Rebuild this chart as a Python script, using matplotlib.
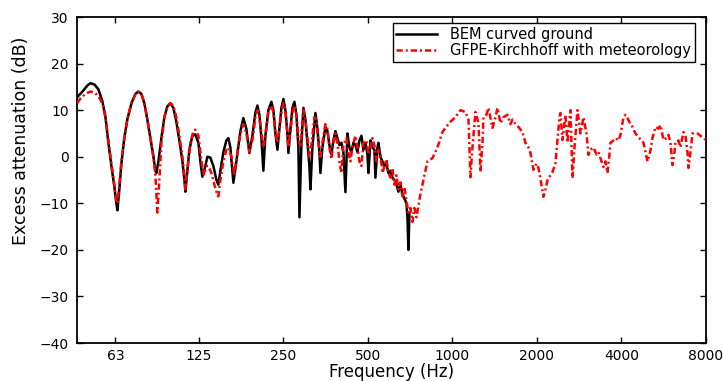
import matplotlib
matplotlib.use("Agg")
import matplotlib.pyplot as plt
from matplotlib.ticker import FixedLocator, FixedFormatter, NullLocator

# BEM curved ground (black, solid)
bem_freq = [46.1, 48.1, 50.1, 51.3, 53.1, 54.8, 56.6, 58.1, 59.5, 61.0,
            62.5, 63.5, 64.1, 65.1, 66.2, 67.8, 69.5, 71.9, 74.3, 76.1,
            78.0, 79.9, 81.9, 84.0, 86.1, 87.5, 88.2, 89.7, 91.9, 94.2,
            96.5, 98.9, 101.4, 103.9, 106.5, 109.2, 111.0, 111.9, 113.7, 115.6,
            118.5, 121.4, 124.5, 126.5, 128.6, 131.8, 134.0, 137.3, 140.8, 144.3,
            146.6, 149.1, 152.8, 156.6, 159.2, 161.8, 165.9, 170.0, 175.7, 180.0,
            184.5, 189.1, 193.8, 198.7, 202.0, 205.3, 208.7, 212.1, 215.6, 221.0,
            226.5, 230.3, 234.1, 238.0, 241.9, 245.9, 250.0, 254.1, 258.3, 260.5,
            264.8, 269.2, 273.6, 278.1, 282.7, 285.1, 289.8, 294.6, 299.4, 304.4,
            309.4, 312.0, 317.1, 325.0, 330.4, 335.9, 338.6, 344.2, 352.8, 358.6,
            364.6, 370.6, 376.7, 383.0, 389.3, 395.7, 402.3, 408.9, 415.7, 422.6,
            429.5, 436.6, 443.9, 451.3, 458.7, 466.3, 474.0, 481.9, 489.9, 498.0,
            502.1, 510.4, 518.8, 527.4, 531.7, 540.5, 545.0, 554.0, 563.2, 572.5,
            581.9, 591.6, 601.3, 611.3, 621.4, 631.7, 642.1, 652.7, 663.5, 674.5,
            685.7, 691.3, 697.0, 702.7]
bem_db = [12.8, 14.0, 15.3, 15.8, 15.5, 14.5, 12.0, 8.5, 3.0, -2.0,
          -6.5, -10.0, -11.5, -7.0, -1.5, 4.0, 8.0, 11.5, 13.5, 14.0,
          13.5, 11.5, 8.0, 4.0, 0.0, -3.0, -3.5, -1.0, 4.0, 8.5,
          10.8, 11.5, 10.5, 7.5, 3.5, -1.0, -5.0, -7.5, -3.0, 1.5,
          4.5, 4.8, 3.0, -1.0, -4.3, -2.0, 0.0, -0.2, -2.0, -5.0,
          -6.0, -3.0, 1.0, 3.5, 4.0, 2.0, -5.6, -1.0, 5.5, 8.3,
          6.0, 0.8, 4.5, 9.5, 11.0, 9.0, 4.0, -3.0, 4.5, 10.0,
          11.8, 10.0, 5.0, 1.5, 6.0, 10.5, 12.4, 10.0, 5.0, 0.8,
          6.0, 10.5, 11.8, 9.0, 2.0, -13.0, 3.0, 10.5, 8.0, 3.0,
          -2.0, -7.0, 2.0, 9.4, 6.0, 1.0, -3.5, 2.0, 6.4, 5.5,
          2.5, 0.5, 3.5, 5.5, 4.0, 2.5, 3.0, 1.0, -7.6, 5.0,
          2.0, 1.0, 3.0, 2.5, 1.0, 3.5, 4.5, 1.5, 3.0, 0.5,
          -3.5, 3.5, 2.0, 1.5, -4.5, 2.0, 3.0, 0.0, -1.0, -2.0,
          -1.5, -3.5, -3.0, -4.5, -5.0, -6.0, -7.5, -6.0, -8.0, -9.0,
          -10.0, -13.0, -20.0, -12.0]

# GFPE-Kirchhoff with meteorology (red, dash-dot)
gfpe_freq = [46.1, 47.3, 49.3, 51.3, 53.1, 54.8, 56.6, 58.1, 59.5, 61.0,
             62.5, 63.5, 64.1, 65.1, 66.2, 67.8, 69.5, 71.9, 74.3, 76.1,
             78.0, 79.9, 81.9, 84.0, 86.1, 87.5, 88.9, 90.4, 91.9, 94.2,
             96.5, 98.9, 101.4, 103.9, 106.5, 109.2, 111.0, 111.9, 113.7, 116.6,
             119.5, 121.4, 124.5, 126.5, 129.7, 132.9, 135.1, 138.5, 141.9, 144.3,
             146.6, 149.1, 152.8, 156.6, 159.2, 163.2, 167.2, 171.4, 175.7, 180.0,
             184.5, 189.1, 193.8, 198.7, 202.0, 205.3, 208.7, 212.1, 215.6, 221.0,
             226.5, 230.3, 234.1, 238.0, 241.9, 245.9, 250.0, 254.1, 258.3, 260.5,
             264.8, 269.2, 273.6, 278.1, 282.7, 287.4, 294.6, 299.4, 304.4, 309.4,
             314.5, 322.4, 327.7, 333.1, 338.6, 344.2, 352.8, 358.6, 364.6, 370.6,
             376.7, 383.0, 389.3, 395.7, 402.3, 408.9, 419.1, 426.0, 433.1, 440.3,
             451.3, 458.7, 466.3, 474.0, 481.9, 493.9, 502.1, 510.4, 518.8, 527.4,
             536.1, 545.0, 554.0, 563.2, 572.5, 581.9, 591.6, 601.3, 611.3, 621.4,
             631.7, 642.1, 652.7, 663.5, 674.5, 685.7, 697.0, 708.5, 720.3, 732.2,
             744.3, 756.6, 769.1, 788.3, 814.6, 848.7, 884.3, 921.3, 952.0, 983.7,
             1024.9, 1067.8, 1112.5, 1140.2, 1159.2, 1178.3, 1207.7, 1237.8, 1258.2, 1279.0,
             1289.6, 1321.7, 1343.6, 1388.4, 1422.9, 1446.5, 1482.5, 1519.5, 1570.2, 1609.3,
             1635.9, 1676.6, 1718.4, 1775.7, 1819.9, 1865.3, 1896.1, 1943.3, 1991.8, 2024.8,
             2075.2, 2109.5, 2144.4, 2179.8, 2234.1, 2271.0, 2327.6, 2366.1, 2405.2, 2425.0,
             2465.1, 2526.5, 2568.3, 2632.7, 2676.2, 2720.4, 2788.2, 2857.7, 2928.8, 3001.8,
             3051.4, 3101.9, 3179.1, 3258.3, 3312.2, 3394.7, 3450.8, 3507.9, 3565.9, 3624.8,
             3654.7, 3745.7, 3807.7, 3902.5, 3967.0, 4065.8, 4133.1, 4201.4, 4306.0, 4377.2,
             4486.2, 4598.0, 4712.5, 4790.4, 4869.6, 4950.1, 5032.0, 5073.4, 5157.3, 5285.7,
             5417.4, 5506.9, 5644.1, 5784.7, 5880.3, 5977.5, 6076.4, 6176.8, 6227.7, 6382.8,
             6488.3, 6649.9, 6759.8, 6871.6, 6928.2, 7042.7, 7159.2, 7337.5, 7458.8, 7644.5,
             7770.9, 7964.5, 8000.0]
gfpe_db = [11.5, 12.5, 13.5, 14.0, 13.8, 13.0, 11.5, 8.5, 3.5, -1.5,
           -6.0, -9.5, -10.0, -6.0, -1.0, 4.0, 8.0, 11.5, 13.5, 14.0,
           13.5, 11.5, 8.0, 4.0, 0.0, -4.0, -12.0, -5.0, 3.0, 8.5,
           10.8, 11.5, 11.0, 8.5, 4.5, 0.0, -4.0, -7.0, -3.0, 3.0,
           5.5, 5.8, 4.5, 1.0, -4.0, -2.0, -2.0, -3.5, -6.0, -7.5,
           -8.5, -5.0, -1.0, 1.5, 2.0, 0.0, -4.0, 1.0, 5.0, 7.0,
           5.0, 1.0, 3.5, 8.5, 10.0, 8.5, 5.0, 2.0, 4.5, 9.5,
           11.0, 9.5, 5.0, 3.0, 6.0, 9.5, 11.5, 10.0, 5.0, 2.0,
           5.5, 9.5, 11.0, 9.0, 4.0, 2.0, 10.0, 8.0, 4.0, 0.0,
           2.5, 8.5, 8.0, 3.0, 0.0, 3.0, 7.0, 6.0, 2.0, -0.5,
           3.0, 5.0, 3.0, -1.0, -3.5, 2.5, 4.0, 1.0, -1.0, 2.0,
           4.5, 2.0, -1.0, -2.0, 3.0, 3.5, 0.5, 2.0, 4.0, 2.5,
           -1.0, 1.5, 0.5, -3.5, -2.0, -0.5, -3.5, -4.5, -2.5, -6.0,
           -4.0, -7.0, -5.5, -8.5, -6.5, -9.5, -12.0, -11.0, -14.0, -11.0,
           -13.0, -10.5, -8.0, -5.0, -1.0, -0.3, 2.0, 5.3, 6.5, 7.5,
           8.5, 10.0, 9.6, 8.0, -4.4, 2.0, 9.6, 7.2, -3.3, 3.0,
           8.5, 9.0, 10.5, 6.2, 8.5, 10.5, 7.2, 8.5, 9.0, 7.0,
           8.0, 7.0, 6.4, 5.3, 3.0, 2.0, 0.8, -2.8, -1.5, -2.4,
           -6.0, -8.6, -7.0, -5.0, -4.0, -3.3, -1.4, 3.6, 8.5, 9.4,
           3.6, 9.0, 3.0, 10.0, -4.6, 2.0, 10.0, 5.0, 8.5, 5.0,
           0.4, 1.5, 2.0, 0.5, 1.0, -1.0, -2.2, -1.0, -3.5, 0.5,
           3.0, 3.5, 4.0, 3.5, 4.7, 8.5, 9.0, 8.3, 7.0, 6.4,
           5.0, 4.2, 3.5, 3.0, 1.0, -1.0, 0.5, 1.4, 4.0, 6.4,
           6.0, 6.8, 3.6, 4.0, 4.7, 3.0, -1.8, 1.0, 3.2, 3.5,
           2.0, 5.3, 4.5, 1.0, -2.4, 1.0, 5.0, 5.0, 5.0, 4.5,
           4.2, 3.6, 3.0]

tick_freqs = [63, 125, 250, 500, 1000, 2000, 4000, 8000]
tick_labels = ['63', '125', '250', '500', '1000', '2000', '4000', '8000']
y_ticks = [-40, -30, -20, -10, 0, 10, 20, 30]

plt.rcParams['font.family'] = ['DejaVu Sans']

fig = plt.figure(figsize=(7.23, 3.81), dpi=100)
ax = fig.add_axes([0.1065, 0.0997, 0.870, 0.8556])

ax.plot(bem_freq, bem_db, color='black', linewidth=1.8,
        label='BEM curved ground', zorder=2)
ax.plot(gfpe_freq, gfpe_db, color='red', linewidth=1.8,
        dashes=(2.5, 1.2, 0.8, 1.2),
        label='GFPE-Kirchhoff with meteorology', zorder=3)

ax.set_xscale('log')
ax.set_xlim(46, 8000)
ax.set_ylim(-40, 30)
ax.xaxis.set_major_locator(FixedLocator(tick_freqs))
ax.xaxis.set_major_formatter(FixedFormatter(tick_labels))
ax.xaxis.set_minor_locator(NullLocator())
ax.set_yticks(y_ticks)

ax.tick_params(direction='in', length=4, width=1, top=True, right=True,
               labelsize=10, colors='black')
ax.tick_params(axis='x', pad=4)
ax.tick_params(axis='y', pad=6)
for sp in ax.spines.values():
    sp.set_linewidth(1.3)

ax.set_xlabel('Frequency (Hz)', fontsize=12, labelpad=0)
ax.set_ylabel('Excess attenuation (dB)', fontsize=12.5)
ax.yaxis.set_label_coords(-0.075, 0.62)

leg = ax.legend(loc='upper right', bbox_to_anchor=(0.9825, 0.9816),
                borderaxespad=0, fontsize=10.5, fancybox=False,
                framealpha=1, edgecolor='black', handlelength=2.8,
                borderpad=0.25, labelspacing=0.1, handletextpad=0.9)
leg.get_frame().set_linewidth(1.0)

fig.savefig('out.png', dpi=100)
